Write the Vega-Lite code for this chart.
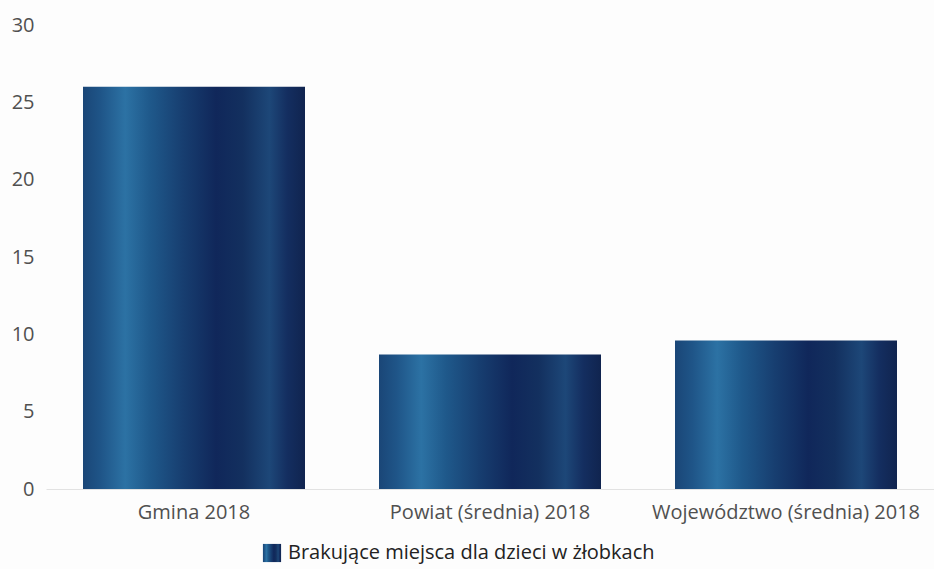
{
  "$schema": "https://vega.github.io/schema/vega-lite/v6.json",
  "width": 888,
  "height": 464,
  "autosize": {"type": "none"},
  "padding": {"left": 46, "top": 25, "right": 0, "bottom": 80},
  "background": "#fdfdfd",
  "config": {"view": {"stroke": null}},
  "data": {
    "values": [
      {"kategoria": "Gmina 2018", "wartosc": 26, "seria": "Brakujące miejsca dla dzieci w żłobkach"},
      {"kategoria": "Powiat (średnia) 2018", "wartosc": 8.7, "seria": "Brakujące miejsca dla dzieci w żłobkach"},
      {"kategoria": "Województwo (średnia) 2018", "wartosc": 9.6, "seria": "Brakujące miejsca dla dzieci w żłobkach"}
    ]
  },
  "mark": {
    "type": "bar",
    "fill": {
      "gradient": "linear",
      "x1": 0, "x2": 1, "y1": 0, "y2": 0,
      "stops": [
        {"offset": 0, "color": "#1a4677"},
        {"offset": 0.08, "color": "#1f5588"},
        {"offset": 0.19, "color": "#2c72a4"},
        {"offset": 0.3, "color": "#1f598b"},
        {"offset": 0.45, "color": "#173e70"},
        {"offset": 0.6, "color": "#10275a"},
        {"offset": 0.72, "color": "#13305f"},
        {"offset": 0.84, "color": "#1d4778"},
        {"offset": 0.92, "color": "#142e60"},
        {"offset": 1, "color": "#10244f"}
      ]
    }
  },
  "encoding": {
    "x": {
      "field": "kategoria",
      "type": "nominal",
      "sort": null,
      "scale": {"paddingInner": 0.25, "paddingOuter": 0.125},
      "axis": {
        "title": null,
        "labelAngle": 0,
        "labelLimit": 0,
        "ticks": false,
        "domainColor": "#e2e2e2",
        "labelFont": "Open Sans",
        "labelFontSize": 20,
        "labelColor": "#505050",
        "labelPadding": 13
      }
    },
    "y": {
      "field": "wartosc",
      "type": "quantitative",
      "scale": {"domain": [0, 30]},
      "axis": {
        "title": null,
        "values": [0, 5, 10, 15, 20, 25, 30],
        "grid": false,
        "domain": false,
        "ticks": false,
        "labelFont": "Open Sans",
        "labelFontSize": 20,
        "labelColor": "#505050",
        "labelPadding": 12
      }
    },
    "stroke": {
      "field": "seria",
      "type": "nominal",
      "scale": {"range": ["#1d4f82"]},
      "legend": {
        "title": null,
        "orient": "none",
        "legendX": 216,
        "legendY": 518,
        "symbolType": "square",
        "symbolSize": 330,
        "symbolFillColor": "#1d4f82",
        "symbolStrokeWidth": 0,
        "labelFont": "Open Sans",
        "labelFontSize": 20,
        "labelLimit": 0,
        "labelColor": "#222222",
        "labelOffset": 6
      }
    },
    "strokeWidth": {"value": 0}
  }
}
